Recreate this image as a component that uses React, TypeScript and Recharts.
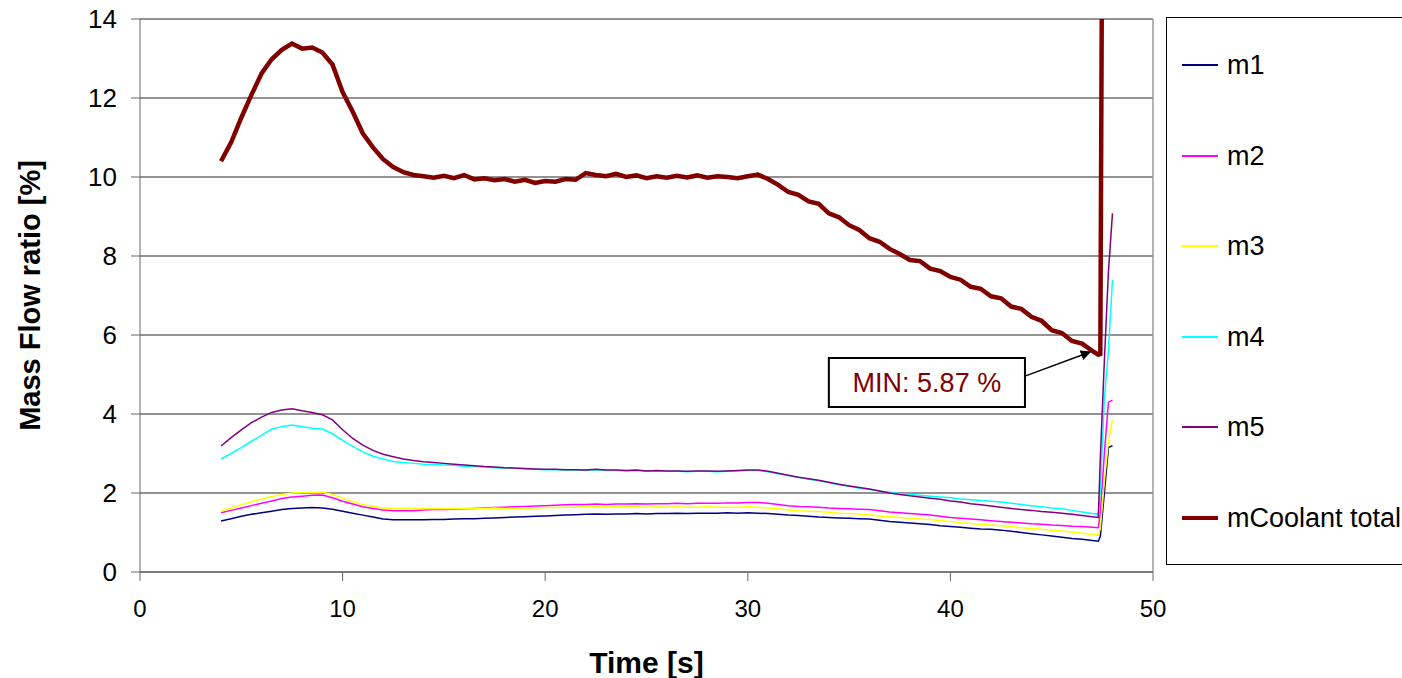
import { CartesianGrid, Line, LineChart, ReferenceArea, ReferenceLine, XAxis, YAxis } from "recharts";

const FONT = "'Liberation Sans', Arial, sans-serif";

// time [s]: 0.5 s steps from 4 to 47, then the final surge
const TIME = [
  4, 4.5, 5, 5.5, 6, 6.5, 7, 7.5, 8, 8.5, 9, 9.5, 10, 10.5, 11, 11.5, 12, 12.5, 13, 13.5,
  14, 14.5, 15, 15.5, 16, 16.5, 17, 17.5, 18, 18.5, 19, 19.5, 20, 20.5, 21, 21.5, 22, 22.5, 23, 23.5,
  24, 24.5, 25, 25.5, 26, 26.5, 27, 27.5, 28, 28.5, 29, 29.5, 30, 30.5, 31, 31.5, 32, 32.5, 33, 33.5,
  34, 34.5, 35, 35.5, 36, 36.5, 37, 37.5, 38, 38.5, 39, 39.5, 40, 40.5, 41, 41.5, 42, 42.5, 43, 43.5,
  44, 44.5, 45, 45.5, 46, 46.5, 47, 47.3, 47.4, 47.6, 47.8, 48,
];

const M1 = [
  1.29, 1.35, 1.41, 1.46, 1.5, 1.54, 1.58, 1.61, 1.62, 1.63, 1.62, 1.59, 1.54, 1.49, 1.44, 1.39, 1.34, 1.32, 1.32, 1.32,
  1.32, 1.33, 1.33, 1.34, 1.35, 1.35, 1.36, 1.37, 1.38, 1.39, 1.4, 1.41, 1.42, 1.43, 1.44, 1.45, 1.46, 1.47, 1.46, 1.47,
  1.47, 1.48, 1.47, 1.48, 1.48, 1.49, 1.48, 1.49, 1.49, 1.49, 1.5, 1.49, 1.5, 1.49, 1.48, 1.46, 1.44, 1.43, 1.41, 1.39,
  1.38, 1.37, 1.36, 1.35, 1.34, 1.31, 1.28, 1.26, 1.24, 1.22, 1.2, 1.17, 1.15, 1.13, 1.11, 1.09, 1.08, 1.06, 1.03, 1.0,
  0.97, 0.94, 0.91, 0.88, 0.85, 0.83, 0.8, 0.78, 0.9, 2.0, 3.15, 3.2,
];

const M2 = [
  1.5, 1.56, 1.62, 1.68, 1.74, 1.8, 1.86, 1.9, 1.92, 1.94, 1.95, 1.88, 1.79, 1.72, 1.65, 1.61, 1.57, 1.55, 1.55, 1.55,
  1.57, 1.58, 1.58, 1.59, 1.6, 1.61, 1.62, 1.63, 1.64, 1.65, 1.66, 1.67, 1.68, 1.69, 1.7, 1.71, 1.71, 1.72, 1.71, 1.72,
  1.72, 1.73, 1.72, 1.73, 1.73, 1.74, 1.73, 1.74, 1.74, 1.74, 1.75, 1.75, 1.76, 1.76, 1.74, 1.71, 1.68, 1.66, 1.65, 1.64,
  1.62, 1.61, 1.6, 1.59, 1.58, 1.55, 1.52, 1.5, 1.48, 1.46, 1.44, 1.41, 1.38, 1.36, 1.34, 1.32, 1.3, 1.28, 1.26, 1.24,
  1.22, 1.21, 1.19, 1.18, 1.16, 1.15, 1.13, 1.12, 1.5, 3.0, 4.3, 4.35,
];

const M3 = [
  1.54, 1.62, 1.7, 1.78, 1.85, 1.91, 1.96, 2.0, 2.01, 2.01, 2.02, 1.96, 1.87, 1.78, 1.7, 1.66, 1.62, 1.61, 1.6, 1.6,
  1.6, 1.6, 1.61, 1.6, 1.61, 1.61, 1.61, 1.62, 1.61, 1.61, 1.62, 1.62, 1.63, 1.63, 1.64, 1.64, 1.66, 1.66, 1.65, 1.66,
  1.65, 1.65, 1.64, 1.65, 1.64, 1.65, 1.64, 1.64, 1.65, 1.64, 1.64, 1.64, 1.65, 1.64, 1.62, 1.6, 1.57, 1.55, 1.54, 1.53,
  1.51, 1.49, 1.48, 1.47, 1.45, 1.42, 1.4, 1.38, 1.36, 1.34, 1.33, 1.3, 1.28, 1.25, 1.23, 1.21, 1.19, 1.17, 1.15, 1.12,
  1.1, 1.08, 1.06, 1.04, 1.01, 0.98, 0.95, 0.93, 1.1, 2.3, 3.3, 3.85,
];

const M4 = [
  2.86, 3.0, 3.15, 3.31, 3.46, 3.62, 3.68, 3.72, 3.68, 3.64, 3.62, 3.5, 3.33, 3.18, 3.04, 2.93, 2.86, 2.8, 2.77, 2.75,
  2.73, 2.72, 2.71, 2.7, 2.68, 2.67, 2.66, 2.64, 2.63, 2.62, 2.61, 2.6, 2.59, 2.59, 2.58, 2.58, 2.57, 2.59, 2.57, 2.57,
  2.56, 2.57, 2.55, 2.56, 2.55, 2.56, 2.54, 2.55, 2.55, 2.54, 2.55, 2.56, 2.57, 2.57, 2.54, 2.49, 2.44, 2.4, 2.35, 2.31,
  2.26, 2.21, 2.17, 2.12, 2.09, 2.05, 2.02, 1.99, 1.97, 1.94, 1.92, 1.9, 1.88, 1.85, 1.83, 1.81, 1.79, 1.77, 1.74, 1.71,
  1.68, 1.65, 1.62, 1.6, 1.56, 1.52, 1.48, 1.46, 2.1, 4.4, 5.6, 7.4,
];

const M5 = [
  3.19, 3.4, 3.6, 3.78, 3.92, 4.04, 4.1, 4.13, 4.08, 4.04, 3.98, 3.85, 3.6, 3.38, 3.21, 3.08, 2.98, 2.92, 2.86, 2.82,
  2.79, 2.77, 2.75, 2.73, 2.71, 2.69, 2.67, 2.66, 2.64, 2.63, 2.62, 2.61, 2.6, 2.6, 2.59, 2.59, 2.58, 2.6, 2.58, 2.58,
  2.57, 2.58, 2.56, 2.57, 2.56, 2.56, 2.55, 2.56, 2.56, 2.55, 2.56, 2.57, 2.58, 2.58, 2.55, 2.5, 2.45, 2.4, 2.36, 2.32,
  2.27, 2.22, 2.18, 2.14, 2.1, 2.05, 2.0, 1.96, 1.93, 1.9, 1.87, 1.84, 1.8, 1.77, 1.73, 1.7, 1.67, 1.64, 1.61, 1.58,
  1.56, 1.53, 1.51, 1.49, 1.46, 1.43, 1.4, 1.38, 2.9, 5.35, 7.6, 9.08,
];

const TOTAL = [
  10.4, 10.88, 11.5, 12.08, 12.62, 12.98, 13.22, 13.38, 13.25, 13.28, 13.15, 12.85, 12.15, 11.65, 11.1, 10.75, 10.45, 10.25, 10.12, 10.05,
  10.02, 9.98, 10.03, 9.97, 10.05, 9.94, 9.97, 9.92, 9.95, 9.88, 9.93, 9.85, 9.9, 9.88, 9.95, 9.93, 10.1, 10.05, 10.02, 10.08,
  10.0, 10.04, 9.97, 10.02, 9.98, 10.03, 9.99, 10.04, 9.98, 10.02, 10.0, 9.97, 10.02, 10.06, 9.95, 9.8, 9.62, 9.55, 9.38, 9.32,
  9.08, 8.98, 8.78, 8.66, 8.45, 8.36, 8.18, 8.05, 7.9, 7.87, 7.68, 7.62, 7.47, 7.4, 7.22, 7.17, 6.98, 6.93, 6.72, 6.66,
  6.46, 6.36, 6.12, 6.05, 5.85, 5.78, 5.6, 5.5, 5.52, 30, null, null,
];

const X_TICKS = [0, 10, 20, 30, 40, 50];
const Y_TICKS = [0, 2, 4, 6, 8, 10, 12, 14];

const SERIES = [
  { key: "m1", name: "m1", color: "#000080", width: 1.5 },
  { key: "m2", name: "m2", color: "#ff00ff", width: 1.5 },
  { key: "m3", name: "m3", color: "#ffff00", width: 1.5 },
  { key: "m4", name: "m4", color: "#00ffff", width: 1.5 },
  { key: "m5", name: "m5", color: "#800080", width: 1.5 },
  { key: "total", name: "mCoolant total", color: "#800000", width: 4.5 },
];

const data = TIME.map((t, i) => ({
  t,
  m1: M1[i],
  m2: M2[i],
  m3: M3[i],
  m4: M4[i],
  m5: M5[i],
  total: TOTAL[i],
}));

function LegendBox() {
  return (
    <div
      style={{
        position: "absolute",
        left: 1166,
        top: 17,
        width: 250,
        height: 548,
        border: "1px solid #000",
        boxSizing: "border-box",
        fontFamily: FONT,
        fontSize: 27,
        background: "#fff",
      }}
    >
      {SERIES.map((s, i) => (
        <div
          key={s.key}
          style={{
            position: "absolute",
            left: 0,
            top: Math.round(31 + i * 90.6),
            display: "flex",
            alignItems: "center",
            height: 32,
          }}
        >
          <span
            style={{
              display: "inline-block",
              marginLeft: 15,
              width: 36,
              height: s.width > 2 ? 4 : 2,
              background: s.color,
            }}
          />
          <span style={{ marginLeft: 9, whiteSpace: "nowrap" }}>{s.name}</span>
        </div>
      ))}
    </div>
  );
}

export default function App() {
  return (
    <div style={{ position: "absolute", left: 0, top: 0, width: 1402, height: 678, background: "#fff", overflow: "hidden" }}>
      <LineChart
        width={1402}
        height={678}
        data={data}
        margin={{ top: 19, right: 249, bottom: 0, left: 0 }}
        style={{ fontFamily: FONT }}
      >
        <defs>
          <marker id="arrow" viewBox="0 0 10 10" refX="9" refY="5" markerWidth="7" markerHeight="7" orient="auto">
            <path d="M0,0 L10,5 L0,10 z" fill="#000" />
          </marker>
        </defs>
        <CartesianGrid vertical={false} stroke="#000" strokeOpacity={0.85} />
        <XAxis
          dataKey="t"
          type="number"
          domain={[0, 50]}
          ticks={X_TICKS}
          height={106}
          stroke="#666"
          tickSize={9}
          tickMargin={19}
          tick={{ fill: "#000", fontSize: 24 }}
          label={{ value: "Time [s]", position: "center", dy: 37, fill: "#000", fontSize: 30, fontWeight: "bold" }}
        />
        <YAxis
          type="number"
          domain={[0, 14]}
          ticks={Y_TICKS}
          allowDataOverflow
          width={140}
          stroke="#666"
          tickSize={9}
          tickMargin={14}
          tick={{ fill: "#000", fontSize: 26 }}
          label={{
            value: "Mass Flow ratio [%]",
            angle: -90,
            position: "center",
            dx: -40,
            fill: "#000",
            fontSize: 29,
            fontWeight: "bold",
          }}
        />
        <ReferenceLine x={50} stroke="#999" strokeWidth={1.5} />
        {SERIES.map((s) => (
          <Line
            key={s.key}
            type="linear"
            dataKey={s.key}
            name={s.name}
            stroke={s.color}
            strokeWidth={s.width}
            dot={false}
            activeDot={false}
            connectNulls={false}
            isAnimationActive={false}
          />
        ))}
        <ReferenceArea
          x1={34.0}
          x2={43.68}
          y1={4.18}
          y2={5.42}
          fill="#fff"
          fillOpacity={1}
          stroke="#000"
          strokeWidth={2}
          label={{ value: "MIN: 5.87 %", position: "center", fill: "#800000", fontSize: 27 }}
        />
        <ReferenceLine
          segment={[
            { x: 43.68, y: 4.96 },
            { x: 46.9, y: 5.57 },
          ]}
          stroke="#000"
          strokeWidth={1.5}
          markerEnd="url(#arrow)"
        />
      </LineChart>
      <LegendBox />
    </div>
  );
}
